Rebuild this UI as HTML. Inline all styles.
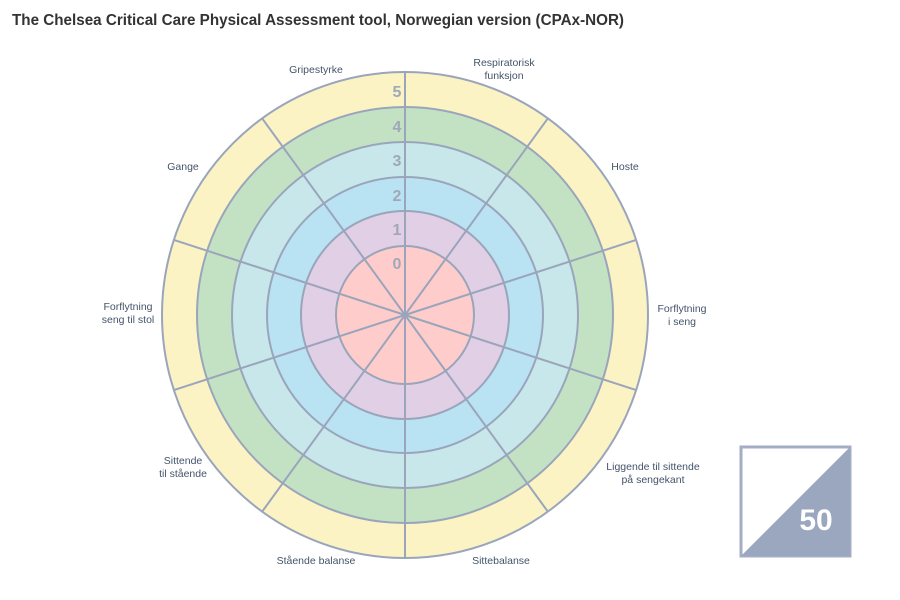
<!DOCTYPE html>
<html><head><meta charset="utf-8"><style>
body{margin:0;background:#fff;width:900px;height:600px;overflow:hidden;font-family:"Liberation Sans",sans-serif}
</style></head><body>
<svg width="900" height="600" xmlns="http://www.w3.org/2000/svg" style="position:absolute;left:0;top:0">
<text x="12" y="25" font-family="Liberation Sans, sans-serif" font-size="16" font-weight="bold" fill="#333" textLength="612" lengthAdjust="spacingAndGlyphs">The Chelsea Critical Care Physical Assessment tool, Norwegian version (CPAx-NOR)</text>
<g stroke="#9aa5bb" stroke-width="2">
<circle cx="405" cy="315" r="243" fill="#fbf3c4"/>
<circle cx="405" cy="315" r="208" fill="#c3e2c4"/>
<circle cx="405" cy="315" r="173" fill="#c8e7ea"/>
<circle cx="405" cy="315" r="138" fill="#b9e2f2"/>
<circle cx="405" cy="315" r="104" fill="#e1cfe6"/>
<circle cx="405" cy="315" r="69" fill="#ffcccc"/>
</g>
<g stroke="#9aa5bb" stroke-width="2" id="sp"></g>
<g font-family="Liberation Sans, sans-serif" font-size="16" font-weight="bold" fill="#a0a8b8" text-anchor="middle">
<text x="397" y="97">5</text><text x="397" y="132">4</text><text x="397" y="166">3</text><text x="397" y="201">2</text><text x="397" y="235">1</text><text x="397" y="269">0</text>
</g>
<g font-family="Liberation Sans, sans-serif" font-size="10.5" fill="#44546a" text-anchor="middle">
<text x="316" y="73">Gripestyrke</text>
<text x="504" y="66">Respiratorisk</text><text x="504" y="79">funksjon</text>
<text x="625" y="170">Hoste</text>
<text x="682" y="312">Forflytning</text><text x="682" y="325">i seng</text>
<text x="653" y="470">Liggende til sittende</text><text x="653" y="483">på sengekant</text>
<text x="501" y="564">Sittebalanse</text>
<text x="316" y="564">Stående balanse</text>
<text x="183" y="464">Sittende</text><text x="183" y="477">til stående</text>
<text x="128" y="310">Forflytning</text><text x="128" y="323">seng til stol</text>
<text x="183" y="170">Gange</text>
</g>
<rect x="741" y="447" width="109" height="109" fill="#fff" stroke="#a3aec4" stroke-width="3"/>
<polygon points="850,447 850,556 741,556" fill="#9ba7bf"/>
<text x="816" y="530" font-family="Liberation Sans, sans-serif" font-size="30" font-weight="bold" fill="#fff" text-anchor="middle">50</text>
</svg>
<script>
var g=document.getElementById('sp'),s='';
for(var i=0;i<10;i++){var a=i*36*Math.PI/180;s+='<line x1="405" y1="315" x2="'+(405+243*Math.sin(a))+'" y2="'+(315-243*Math.cos(a))+'"/>';}
g.innerHTML=s;
</script>
</body></html>
